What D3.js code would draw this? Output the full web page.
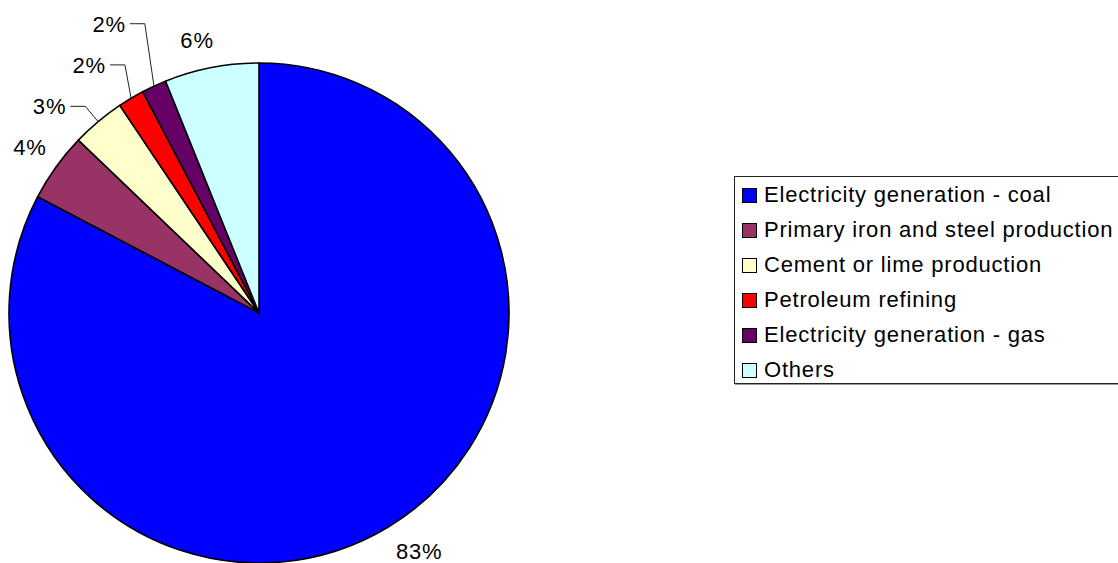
<!DOCTYPE html>
<html>
<head>
<meta charset="utf-8">
<script src="https://cdn.jsdelivr.net/npm/d3@7"></script>
<style>
  html, body { margin: 0; padding: 0; background: #fff; }
  svg { display: block; }
  text { font-family: "Liberation Sans", Arial, Helvetica, sans-serif; fill: #000; }
</style>
</head>
<body>
<svg id="chart" width="1118" height="563"></svg>
<script>
// Share of emissions by source (percent)
const categories = [
  "Electricity generation - coal",
  "Primary iron and steel production",
  "Cement or lime production",
  "Petroleum refining",
  "Electricity generation - gas",
  "Others"
];
const shares = [82.7, 4.45, 3.45, 1.7, 1.6, 6.1];
const colors = ["#0000FF", "#993366", "#FFFFCC", "#FF0000", "#660066", "#CCFFFF"];

// Label layout: plain labels sit at a radius along the slice middle,
// small slices get a leader line with the text to its left.
const labelLayout = [
  { type: "plain", r: 287, shift: -2.8 },
  { type: "plain", r: 283, shift: 0.2 },
  { type: "callout", r: 270, shift: 0 },
  { type: "callout", r: 282, shift: 2.4 },
  { type: "callout", r: 311, shift: 3.3 },
  { type: "plain", r: 280, shift: -1.8 }
];

const W = 1118, H = 563;
const cx = 259, cy = 313, R = 250;
const fontSize = 22, letterSpacing = 0.8;
const capMid = 0.358 * fontSize; // baseline offset to vertically centre digits

const svg = d3.select("#chart");
const rad = Math.PI / 180;
const polar = (a, r) => [cx + r * Math.sin(a), cy - r * Math.cos(a)];

const pie = d3.pie().sort(null).value(d => d).startAngle(0).endAngle(2 * Math.PI);
const arcs = pie(shares);
const arc = d3.arc().innerRadius(0).outerRadius(R);

const g = svg.append("g").attr("transform", `translate(${cx},${cy})`);
g.selectAll("path.slice")
  .data(arcs)
  .join("path")
  .attr("class", "slice")
  .attr("d", arc)
  .attr("fill", (d, i) => colors[i])
  .attr("stroke", "#000")
  .attr("stroke-width", 1.6)
  .attr("stroke-linejoin", "round");

const fmt = v => Math.round(v) + "%";

arcs.forEach((d, i) => {
  const mid = (d.startAngle + d.endAngle) / 2;
  const L = labelLayout[i];
  const a = mid + L.shift * rad;
  if (L.type === "plain") {
    const [x, y] = polar(a, L.r);
    svg.append("text")
      .attr("x", x).attr("y", y + capMid)
      .attr("text-anchor", "middle")
      .attr("font-size", fontSize)
      .attr("letter-spacing", letterSpacing)
      .text(fmt(d.value));
  } else {
    const [ax, ay] = polar(mid, R);
    const [ex, ey] = polar(a, L.r);
    const tailX = ex - 15;
    svg.append("polyline")
      .attr("points", [[ax, ay], [ex, ey], [tailX, ey]].map(p => p.join(",")).join(" "))
      .attr("fill", "none")
      .attr("stroke", "#222")
      .attr("stroke-width", 1);
    svg.append("text")
      .attr("x", tailX - 4).attr("y", ey + capMid)
      .attr("text-anchor", "end")
      .attr("font-size", fontSize)
      .attr("letter-spacing", letterSpacing)
      .text(fmt(d.value));
  }
});

// Legend
const legend = svg.append("g").attr("class", "legend");
const legX = 734, legY = 176, legH = 207, rowStep = 35;
legend.append("rect")
  .attr("x", legX + 0.5).attr("y", legY + 0.5)
  .attr("width", W - legX + 10).attr("height", legH)
  .attr("fill", "#fff").attr("stroke", "#222").attr("stroke-width", 1);
// soft shadow line under the legend frame
legend.append("line")
  .attr("x1", legX + 1).attr("x2", W)
  .attr("y1", legY + legH + 1.5).attr("y2", legY + legH + 1.5)
  .attr("stroke", "#999").attr("stroke-width", 1);

const rowY = d3.scalePoint().domain(categories).range([188, 188 + rowStep * (categories.length - 1)]);
const items = legend.selectAll("g.item").data(categories).join("g").attr("class", "item");
items.append("rect")
  .attr("x", 742.5).attr("y", d => rowY(d) + 0.5)
  .attr("width", 14).attr("height", 14)
  .attr("fill", (d, i) => colors[i])
  .attr("stroke", "#000").attr("stroke-width", 1);
items.append("text")
  .attr("x", 764).attr("y", d => rowY(d) + 14)
  .attr("font-size", fontSize)
  .attr("letter-spacing", letterSpacing)
  .text(d => d);
</script>
</body>
</html>
